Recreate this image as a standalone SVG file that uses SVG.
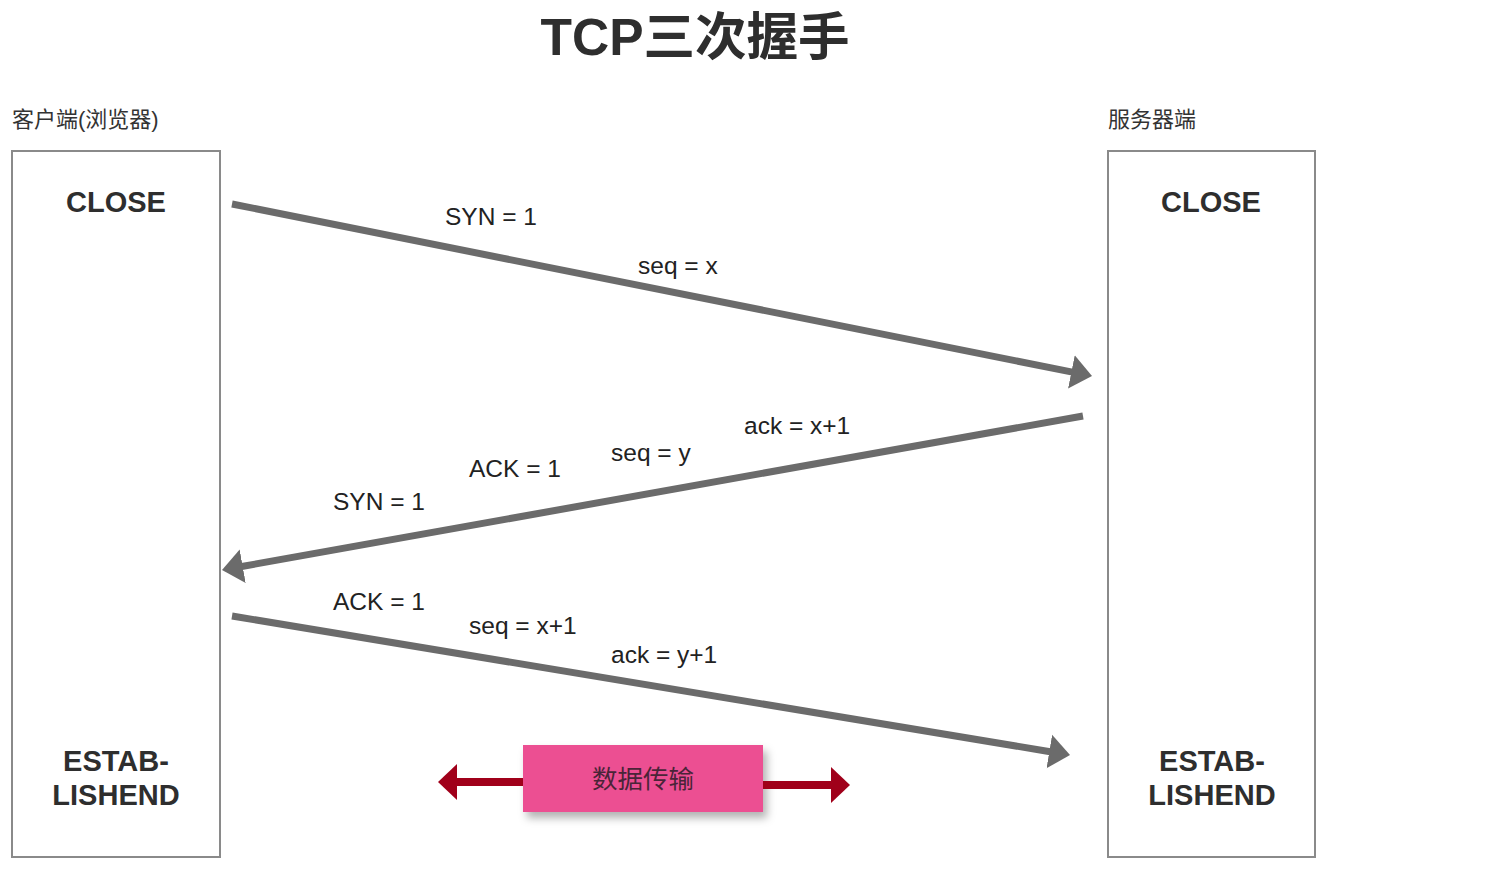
<svg xmlns="http://www.w3.org/2000/svg" width="1497" height="869" viewBox="0 0 1497 869">
<style>
.box{fill:#fff;stroke:#8a8a8a;stroke-width:2}
.state{font-family:"Liberation Sans","Noto Sans CJK SC",sans-serif;font-weight:bold;font-size:29px;fill:#2e2e2e;text-anchor:middle}
.side{font-family:"Liberation Sans","Noto Sans CJK SC",sans-serif;font-size:22px;fill:#333}
.lbl{font-family:"Liberation Sans","Noto Sans CJK SC",sans-serif;font-size:24.5px;fill:#222}
.msg{fill:none;stroke:#6b6b6b;stroke-width:7}
.data{fill:none;stroke:#a0001a;stroke-width:8}
</style>
<defs>
<marker id="gh" markerUnits="userSpaceOnUse" markerWidth="24" markerHeight="40" viewBox="0 -20 24 40" refX="1" refY="0" orient="auto"><path d="M0,-17 L21,0 L0,17 z" fill="#6b6b6b"/></marker>
<marker id="rh" markerUnits="userSpaceOnUse" markerWidth="24" markerHeight="40" viewBox="0 -20 24 40" refX="1" refY="0" orient="auto"><path d="M0,-18 L19,0 L0,18 z" fill="#a0001a"/></marker>
<filter id="sh" x="-10%" y="-20%" width="130%" height="160%"><feDropShadow dx="4" dy="6" stdDeviation="4" flood-color="#000" flood-opacity="0.3"/></filter>
</defs>
<text x="695" y="55" text-anchor="middle" font-family="'Liberation Sans','Noto Sans CJK SC',sans-serif" font-weight="bold" font-size="51.5" fill="#2e2e2e">TCP三次握手</text>
<g id="client">
<text class="side" x="12" y="127">客户端(浏览器)</text>
<rect class="box" x="12" y="151" width="208" height="706"/>
<text class="state" x="116" y="212">CLOSE</text>
<text class="state" x="116" y="771">ESTAB-</text>
<text class="state" x="116" y="805">LISHEND</text>
</g>
<g id="server">
<text class="side" x="1108" y="127">服务器端</text>
<rect class="box" x="1108" y="151" width="207" height="706"/>
<text class="state" x="1211" y="212">CLOSE</text>
<text class="state" x="1212" y="771">ESTAB-</text>
<text class="state" x="1212" y="805">LISHEND</text>
</g>
<g id="data">
<rect x="523" y="745" width="240" height="67" fill="#ec4f92" filter="url(#sh)"/>
<text x="643" y="788" text-anchor="middle" font-family="'Noto Sans CJK SC',sans-serif" font-size="25.5" fill="#4a2438">数据传输</text>
</g>
<g id="connectors">
<line class="msg" x1="232" y1="204" x2="1072.4" y2="372.1" marker-end="url(#gh)"/>
<line class="msg" x1="1083" y1="416" x2="241.7" y2="566.5" marker-end="url(#gh)"/>
<line class="msg" x1="232" y1="616" x2="1050.3" y2="751.7" marker-end="url(#gh)"/>
<line class="data" x1="523" y1="782" x2="456" y2="782" marker-end="url(#rh)"/>
<line class="data" x1="763" y1="785" x2="832" y2="785" marker-end="url(#rh)"/>
</g>
<g id="labels">
<text class="lbl" x="445" y="225">SYN = 1</text>
<text class="lbl" x="638" y="274">seq = x</text>
<text class="lbl" x="744" y="434">ack = x+1</text>
<text class="lbl" x="611" y="461">seq = y</text>
<text class="lbl" x="469" y="477">ACK = 1</text>
<text class="lbl" x="333" y="510">SYN = 1</text>
<text class="lbl" x="333" y="610">ACK = 1</text>
<text class="lbl" x="469" y="634">seq = x+1</text>
<text class="lbl" x="611" y="663">ack = y+1</text>
</g>
</svg>
